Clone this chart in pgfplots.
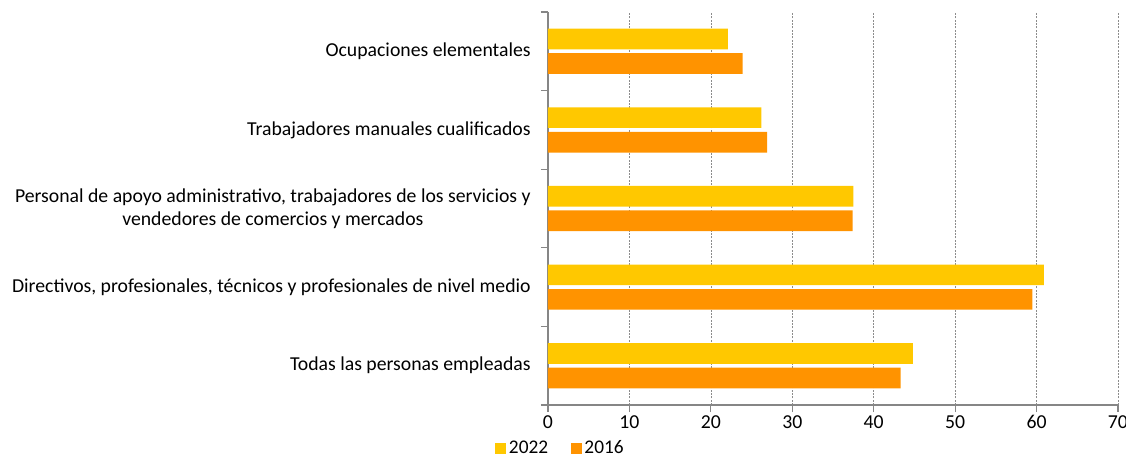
\documentclass[border=0pt]{standalone}
\usepackage{pgfplots}
\pgfplotsset{compat=1.18}
\usepackage{fontspec}
\setmainfont{Carlito}
\definecolor{yel}{RGB}{255,200,0}
\definecolor{org}{RGB}{255,147,0}
\definecolor{axgray}{RGB}{134,134,134}
\begin{document}
\begin{tikzpicture}
\useasboundingbox (-411pt,-39pt) rectangle (433.5pt,303.75pt);
\begin{axis}[
  at={(0pt,0pt)}, anchor=south west,
  scale only axis, width=427.5pt, height=294.75pt,
  xbar, xmin=0, xmax=70, ymin=-0.5, ymax=4.5,
  bar width=15.5pt,
  font=\fontsize{14.8}{17.4}\selectfont,
  axis lines*=left,
  axis line style={-, draw=axgray, line width=0.8pt},
  tick align=outside,
  major tick length=5.25pt,
  tick style={draw=axgray, line width=0.8pt},
  xtick={0,10,...,70},
  xticklabel style={yshift=1pt},
  xmajorgrids,
  grid style={dash pattern=on 1.5pt off 1pt, draw=gray!90, line width=0.5pt},
  /pgf/number format/assume math mode=true,
  ytick={-0.5,0.5,1.5,2.5,3.5,4.5},
  yticklabels={},
  extra y ticks={0,1,2,3,4},
  extra y tick labels={Todas las personas empleadas,
    {Directivos, profesionales, técnicos y profesionales de nivel medio},
    {Personal de apoyo administrativo, trabajadores de los servicios y\\vendedores de comercios y mercados},
    Trabajadores manuales cualificados,
    Ocupaciones elementales},
  extra y tick style={major tick length=0pt, yticklabel style={align=center, xshift=-9.5pt}},
  legend style={at={(rel axis cs:0.0225,0)}, anchor=center, yshift=-32.3pt, draw=none, fill=none,
    font=\fontsize{14.5}{17}\selectfont, inner sep=0pt,
    /tikz/every even column/.append style={column sep=15pt}},
  legend columns=2,
  legend image code/.code={\draw[#1,draw=none] (0pt,-4.1pt) rectangle (8.25pt,4.1pt);},
]
\addplot[fill=yel, draw=none, bar shift=9.2pt] coordinates {(44.8,0) (60.9,1) (37.5,2) (26.2,3) (22.1,4)};
\addplot[fill=org, draw=none, bar shift=-9.2pt] coordinates {(43.3,0) (59.5,1) (37.4,2) (26.9,3) (23.9,4)};
\legend{2022,2016}
\end{axis}
\end{tikzpicture}
\end{document}
